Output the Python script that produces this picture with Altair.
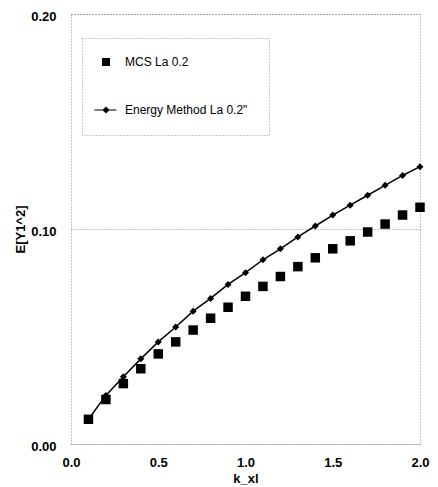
import altair as alt
import pandas as pd

k_xl = [0.1, 0.2, 0.3, 0.4, 0.5, 0.6, 0.7, 0.8, 0.9, 1.0,
        1.1, 1.2, 1.3, 1.4, 1.5, 1.6, 1.7, 1.8, 1.9, 2.0]
mcs = [0.0115, 0.0207, 0.0281, 0.0350, 0.0419, 0.0475, 0.0530, 0.0585, 0.0636, 0.0687,
       0.0733, 0.0779, 0.0825, 0.0866, 0.0908, 0.0945, 0.0986, 0.1023, 0.1065, 0.1101]
energy = [0.0115, 0.0226, 0.0313, 0.0396, 0.0475, 0.0544, 0.0618, 0.0677, 0.0742, 0.0797,
          0.0857, 0.0908, 0.0963, 0.1014, 0.1065, 0.1111, 0.1157, 0.1203, 0.1249, 0.1290]
series_names = ["MCS  La 0.2", "Energy Method  La 0.2\""]
x_ticks = [0.0, 0.5, 1.0, 1.5, 2.0]
y_ticks = [0.0, 0.1, 0.2]

df_mcs = pd.DataFrame({"k": k_xl, "v": mcs, "series": series_names[0]})
df_en = pd.DataFrame({"k": k_xl, "v": energy, "series": series_names[1]})

FONT = "Liberation Sans"

x = alt.X("k:Q", title="k_xl",
          scale=alt.Scale(domain=[0, 2], nice=False, zero=False),
          axis=alt.Axis(values=x_ticks, format=".1f", grid=False, ticks=False,
                        domain=False, labelPadding=12, titlePadding=3, labelFlush=False,
                        labelFontSize=13, labelFontWeight="bold",
                        titleFontSize=13, titleFontWeight="bold"))
y = alt.Y("v:Q", title="E[Y1^2]",
          scale=alt.Scale(domain=[0, 0.2], nice=False),
          axis=alt.Axis(values=y_ticks, format=".2f", grid=True, ticks=False,
                        domain=False, labelPadding=15, titlePadding=3, labelFlush=False,
                        labelBaseline="alphabetic", labelOffset=6,
                        gridColor="#888888", gridDash=[1, 2], gridWidth=1,
                        labelFontSize=13, labelFontWeight="bold",
                        titleFontSize=13, titleFontWeight="bold"))

squares = alt.Chart(df_mcs).mark_point(shape="square", filled=True, size=90,
                                        color="black", opacity=1).encode(x=x, y=y)
line = alt.Chart(df_en).mark_line(color="black", strokeWidth=1.5).encode(x=x, y=y)
diamonds = alt.Chart(df_en).mark_point(shape="diamond", filled=True, size=49,
                                        color="black", opacity=1).encode(x=x, y=y)

energy_symbol = ("M-2.9,-0.15L2.6,-0.15L2.6,0.15L-2.9,0.15Z"
                 "M0,-0.9L0.9,0L0,0.9L-0.9,0Z")
legend_layer = alt.Chart(df_mcs).transform_filter("false").mark_point(
    filled=True, color="black", opacity=1, size=64
).encode(
    x=alt.X("k:Q"), y=alt.Y("v:Q"),
    shape=alt.Shape("series:N",
                    scale=alt.Scale(domain=series_names, range=["square", energy_symbol]),
                    legend=alt.Legend(title=None, orient="none", legendX=11, legendY=24,
                                      direction="vertical", padding=18, rowPadding=34,
                                      labelOffset=13, labelFontSize=12, labelFont=FONT,
                                      labelColor="black", symbolSize=64,
                                      symbolFillColor="black", symbolOpacity=1,
                                      strokeColor="#999999",
                                      fillColor="white"))
)

chart = alt.layer(line, diamonds, squares, legend_layer).properties(
    width=349, height=430,
    autosize=alt.AutoSizeParams(type="none"),
    padding={"left": 63, "top": 6, "right": 10, "bottom": 41},
).configure_view(
    stroke="#888888", strokeDash=[1, 2], strokeWidth=1
).configure_axis(
    labelFont=FONT, titleFont=FONT, labelColor="black", titleColor="black"
).configure_legend(
    strokeDash=[1, 2]
)

chart.save("out.html", embed_options={"renderer": "svg", "actions": False})
